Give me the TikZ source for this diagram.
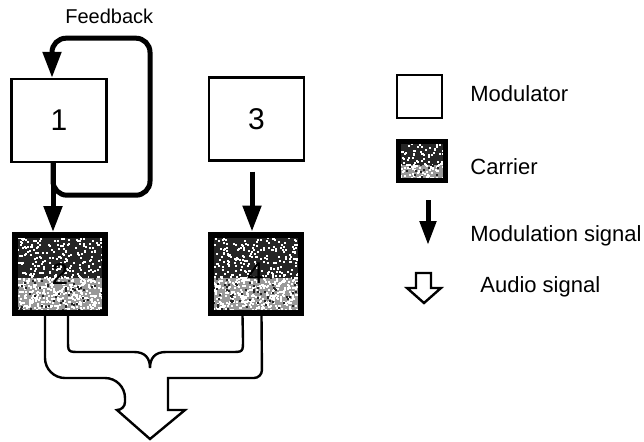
\documentclass[tikz,border=0pt]{standalone}
\usepackage{fontspec}
\setmainfont{Liberation Sans}
\usetikzlibrary{arrows.meta}

\begin{document}
\pgfmathsetseed{7}
\begin{tikzpicture}[x=0.5pt,y=-0.5pt,
  modbox/.style={draw,line width=1.2pt,fill=white,minimum width=47.5pt,minimum height=41.5pt,inner sep=0pt,font=\fontsize{15}{15}\selectfont},
  carbox/.style={draw,line width=3pt,minimum width=45pt,minimum height=39pt,inner sep=0pt,text=black,font=\fontsize{15}{15}\selectfont,
    path picture={
      \fill[black!85] (path picture bounding box.north west) rectangle ([yshift=-2pt]path picture bounding box.east);
      \fill[black!40] ([yshift=-2pt]path picture bounding box.west) rectangle (path picture bounding box.south east);
      \foreach \k in {1,...,220}
        \fill[white] ([shift={(rand*24pt,8pt+rand*10pt)}]path picture bounding box.center) rectangle ++(1pt,1pt);
      \foreach \k in {1,...,460}
        \fill[white] ([shift={(rand*24pt,-12pt+rand*10pt)}]path picture bounding box.center) rectangle ++(1pt,1pt);
      \foreach \k in {1,...,80}
        \fill[black!85] ([shift={(rand*24pt,-12pt+rand*10pt)}]path picture bounding box.center) rectangle ++(1pt,1pt);
    }},
  sig/.style={line width=2.5pt,-{Triangle[length=13pt,width=9pt]}},
  hollow/.style={line width=1.2pt},
  lbl/.style={anchor=base west,inner sep=0pt,font=\fontsize{11}{13}\selectfont}]

\useasboundingbox (0,0) rectangle (644,441);

\node[anchor=base west,inner sep=0pt,font=\fontsize{10}{12}\selectfont] (fbtext) at (65,23) {Feedback};

\node[modbox] (box1) at (59,120.5) {1};
\node[modbox] (box3) at (256.5,119) {3};
\node[carbox] (box2) at (60,274) {2};
\node[carbox] (box4) at (255.5,273.5) {4};

\draw[sig] ([xshift=-3pt]box1.south) -- ([xshift=-3.5pt]box2.north);
\draw[sig,rounded corners=7pt] ([xshift=-3pt]box1.south) -- ++(0,32) -| ++(97,-157) -| ([xshift=-3.5pt]box1.north);
\draw[sig] ([xshift=-2.25pt,yshift=-5pt]box3.south) -- ([xshift=-1.75pt]box4.north);

\draw[hollow,rounded corners=10pt] ([xshift=-7.5pt]box2.south) -- (45,378) -- (125,378) [rounded corners=4pt] -- (125,410)
  [sharp corners] -- (117,410) -- (150,439) -- (185,410) -- (168,410) -- (168,378) [rounded corners=4pt] -- (262,378)
  [rounded corners=10pt] -- ([xshift=3pt]box4.south);
\draw[hollow] ([xshift=4pt]box2.south) -- (68,340) .. controls (68,352) .. (80,352) -- (134,352)
  .. controls (145,352) and (150,358) .. (150,368)
  .. controls (150,358) and (155,352) .. (166,352) -- (231,352) .. controls (243,352) .. (243,340)
  -- ([xshift=-6.5pt]box4.south);

\node[modbox,minimum width=22.3pt,minimum height=21.3pt] (legmod) at (419.5,96.5) {};
\node[carbox,line width=2.5pt,minimum width=23.5pt,minimum height=19.5pt] (legcar) at (422,161) {};
\coordinate (legsig) at (428,200);
\draw[sig,-{Triangle[length=12pt,width=8pt]}] (legsig) -- ++(0,45);
\coordinate (legaud) at (416,273);
\draw[hollow] (legaud) -- ++(0,15) -- ++(-9,0) -- ++(17,15) -- ++(17,-15) -- ++(-10,0) -- ++(0,-15) -- cycle;

\node[lbl] (txtmod) at (470,101) {Modulator};
\node[lbl] (txtcar) at (470,174.5) {Carrier};
\node[lbl] (txtsig) at (470,241) {Modulation signal};
\node[lbl] (txtaud) at (480,292) {Audio signal};
\end{tikzpicture}
\end{document}
